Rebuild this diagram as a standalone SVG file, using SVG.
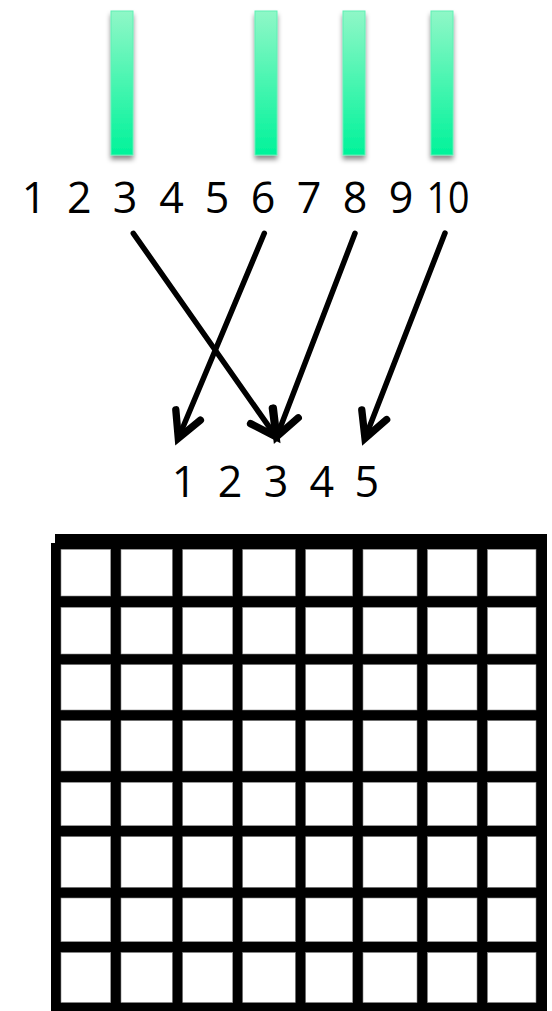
<svg xmlns="http://www.w3.org/2000/svg" width="552" height="1011" viewBox="0 0 552 1011">
  <defs>
    <linearGradient id="barGrad" x1="0" y1="0" x2="0" y2="1">
      <stop offset="0" stop-color="#8ff7c7"/>
      <stop offset="1" stop-color="#00f39a"/>
    </linearGradient>
    <filter id="shadow" x="-50%" y="-10%" width="200%" height="130%">
      <feDropShadow dx="0" dy="4" stdDeviation="2.5" flood-color="#000" flood-opacity="0.45"/>
    </filter>
    <marker id="vhead" markerUnits="userSpaceOnUse" markerWidth="40" markerHeight="40" refX="0" refY="0" viewBox="-25 -15 30 30" orient="auto" overflow="visible">
      <path d="M-19,-10 L0,0 L-19,10" fill="none" stroke="#000" stroke-width="5.5" stroke-linejoin="miter" stroke-linecap="round"/>
    </marker>
    <style>
      .bar { fill: url(#barGrad); stroke: #5ef0b4; stroke-width: 1; filter: url(#shadow); }
      .num { font-family: "Open Sans", Lato, sans-serif; font-size: 43px; fill: #000; text-anchor: middle; }
      .arrow { stroke: #000; stroke-width: 5.5; fill: none; stroke-linecap: round; marker-end: url(#vhead); }
      .cell { fill: #fff; stroke: #888; stroke-width: 0.6; }
    </style>
  </defs>

  <g id="bars">
    <rect class="bar" x="111" y="11" width="22" height="144"/>
    <rect class="bar" x="255" y="11" width="22" height="144"/>
    <rect class="bar" x="343" y="11" width="22" height="144"/>
    <rect class="bar" x="431" y="11" width="22" height="144"/>
  </g>

  <g id="top-labels">
    <text class="num" x="34" y="213">1</text>
    <text class="num" x="79.3" y="213">2</text>
    <text class="num" x="125" y="213">3</text>
    <text class="num" x="171.5" y="213">4</text>
    <text class="num" x="217" y="213">5</text>
    <text class="num" x="263" y="213">6</text>
    <text class="num" x="309" y="213">7</text>
    <text class="num" x="355" y="213">8</text>
    <text class="num" x="401" y="213">9</text>
    <text class="num" x="448" y="213" textLength="43" lengthAdjust="spacingAndGlyphs">10</text>
  </g>

  <g id="connectors">
    <line class="arrow" x1="133.3" y1="233.3" x2="276" y2="436.7"/>
    <line class="arrow" x1="264.3" y1="233.3" x2="178.3" y2="438.3"/>
    <line class="arrow" x1="355" y1="233.3" x2="276.7" y2="436.7"/>
    <line class="arrow" x1="445" y1="233" x2="365" y2="438.3"/>
  </g>

  <g id="bottom-labels">
    <text class="num" x="184" y="497">1</text>
    <text class="num" x="230" y="497">2</text>
    <text class="num" x="276" y="497">3</text>
    <text class="num" x="321.7" y="497">4</text>
    <text class="num" x="366.7" y="497">5</text>
  </g>

  <g id="grid">
    <rect x="51" y="543" width="494" height="468" fill="#000"/>
    <rect x="55" y="534" width="492" height="477" fill="#000"/>
    <g id="cells">
      <g transform="translate(0,549.3)">
        <rect class="cell" x="61" y="0" width="49.7" height="46.7"/>
        <rect class="cell" x="121" y="0" width="51.3" height="46.7"/>
        <rect class="cell" x="182.7" y="0" width="50" height="46.7"/>
        <rect class="cell" x="242.7" y="0" width="52.6" height="46.7"/>
        <rect class="cell" x="305.7" y="0" width="47" height="46.7"/>
        <rect class="cell" x="363" y="0" width="54" height="46.7"/>
        <rect class="cell" x="427.5" y="0" width="49.5" height="46.7"/>
        <rect class="cell" x="487.5" y="0" width="48.5" height="46.7"/>
      </g>
      <g transform="translate(0,607.3)">
        <rect class="cell" x="61" y="0" width="49.7" height="46.7"/>
        <rect class="cell" x="121" y="0" width="51.3" height="46.7"/>
        <rect class="cell" x="182.7" y="0" width="50" height="46.7"/>
        <rect class="cell" x="242.7" y="0" width="52.6" height="46.7"/>
        <rect class="cell" x="305.7" y="0" width="47" height="46.7"/>
        <rect class="cell" x="363" y="0" width="54" height="46.7"/>
        <rect class="cell" x="427.5" y="0" width="49.5" height="46.7"/>
        <rect class="cell" x="487.5" y="0" width="48.5" height="46.7"/>
      </g>
      <g transform="translate(0,664.7)">
        <rect class="cell" x="61" y="0" width="49.7" height="45.3"/>
        <rect class="cell" x="121" y="0" width="51.3" height="45.3"/>
        <rect class="cell" x="182.7" y="0" width="50" height="45.3"/>
        <rect class="cell" x="242.7" y="0" width="52.6" height="45.3"/>
        <rect class="cell" x="305.7" y="0" width="47" height="45.3"/>
        <rect class="cell" x="363" y="0" width="54" height="45.3"/>
        <rect class="cell" x="427.5" y="0" width="49.5" height="45.3"/>
        <rect class="cell" x="487.5" y="0" width="48.5" height="45.3"/>
      </g>
      <g transform="translate(0,720.7)">
        <rect class="cell" x="61" y="0" width="49.7" height="50.3"/>
        <rect class="cell" x="121" y="0" width="51.3" height="50.3"/>
        <rect class="cell" x="182.7" y="0" width="50" height="50.3"/>
        <rect class="cell" x="242.7" y="0" width="52.6" height="50.3"/>
        <rect class="cell" x="305.7" y="0" width="47" height="50.3"/>
        <rect class="cell" x="363" y="0" width="54" height="50.3"/>
        <rect class="cell" x="427.5" y="0" width="49.5" height="50.3"/>
        <rect class="cell" x="487.5" y="0" width="48.5" height="50.3"/>
      </g>
      <g transform="translate(0,782.3)">
        <rect class="cell" x="61" y="0" width="49.7" height="43.4"/>
        <rect class="cell" x="121" y="0" width="51.3" height="43.4"/>
        <rect class="cell" x="182.7" y="0" width="50" height="43.4"/>
        <rect class="cell" x="242.7" y="0" width="52.6" height="43.4"/>
        <rect class="cell" x="305.7" y="0" width="47" height="43.4"/>
        <rect class="cell" x="363" y="0" width="54" height="43.4"/>
        <rect class="cell" x="427.5" y="0" width="49.5" height="43.4"/>
        <rect class="cell" x="487.5" y="0" width="48.5" height="43.4"/>
      </g>
      <g transform="translate(0,836.7)">
        <rect class="cell" x="61" y="0" width="49.7" height="50.6"/>
        <rect class="cell" x="121" y="0" width="51.3" height="50.6"/>
        <rect class="cell" x="182.7" y="0" width="50" height="50.6"/>
        <rect class="cell" x="242.7" y="0" width="52.6" height="50.6"/>
        <rect class="cell" x="305.7" y="0" width="47" height="50.6"/>
        <rect class="cell" x="363" y="0" width="54" height="50.6"/>
        <rect class="cell" x="427.5" y="0" width="49.5" height="50.6"/>
        <rect class="cell" x="487.5" y="0" width="48.5" height="50.6"/>
      </g>
      <g transform="translate(0,898)">
        <rect class="cell" x="61" y="0" width="49.7" height="43.7"/>
        <rect class="cell" x="121" y="0" width="51.3" height="43.7"/>
        <rect class="cell" x="182.7" y="0" width="50" height="43.7"/>
        <rect class="cell" x="242.7" y="0" width="52.6" height="43.7"/>
        <rect class="cell" x="305.7" y="0" width="47" height="43.7"/>
        <rect class="cell" x="363" y="0" width="54" height="43.7"/>
        <rect class="cell" x="427.5" y="0" width="49.5" height="43.7"/>
        <rect class="cell" x="487.5" y="0" width="48.5" height="43.7"/>
      </g>
      <g transform="translate(0,952.5)">
        <rect class="cell" x="61" y="0" width="49.7" height="50"/>
        <rect class="cell" x="121" y="0" width="51.3" height="50"/>
        <rect class="cell" x="182.7" y="0" width="50" height="50"/>
        <rect class="cell" x="242.7" y="0" width="52.6" height="50"/>
        <rect class="cell" x="305.7" y="0" width="47" height="50"/>
        <rect class="cell" x="363" y="0" width="54" height="50"/>
        <rect class="cell" x="427.5" y="0" width="49.5" height="50"/>
        <rect class="cell" x="487.5" y="0" width="48.5" height="50"/>
      </g>
    </g>
  </g>
</svg>
